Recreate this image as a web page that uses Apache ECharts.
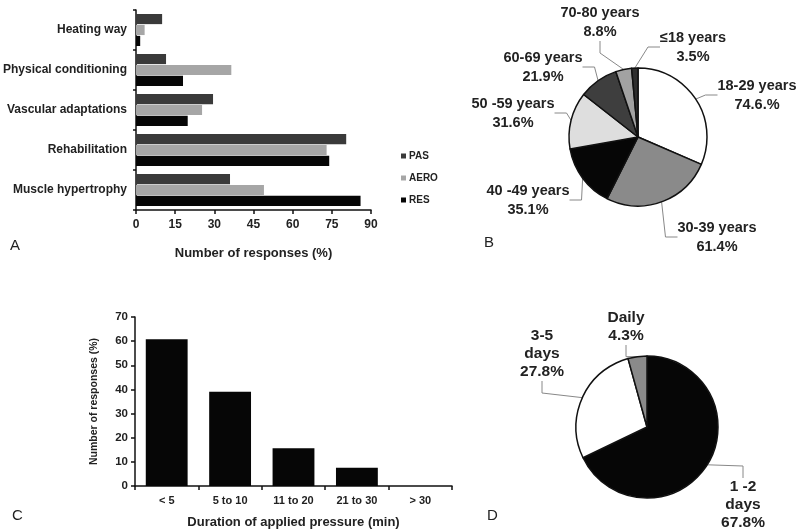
<!DOCTYPE html>
<html><head><meta charset="utf-8">
<script src="https://cdn.jsdelivr.net/npm/echarts@6/dist/echarts.min.js"></script>
<style>html,body{margin:0;padding:0;background:#fff}#c{width:800px;height:531px}</style>
</head><body><div id="c"></div>
<script>
// Panel A
const aCategories = ['Heating way','Physical conditioning','Vascular adaptations','Rehabilitation','Muscle hypertrophy'];
const aPAS  = [10, 11.5, 29.5, 80.5, 36];
const aAERO = [3.3, 36.5, 25.3, 73, 49];
const aRES  = [1.6, 18, 19.8, 74, 86];
// Panel B
const bNames  = ['18-29 years','30-39 years','40 -49 years','50 -59 years','60-69 years','70-80 years','≤18 years'];
const bValues = [74.6, 61.4, 35.1, 31.6, 21.9, 8.8, 3.5];
const bLabels = ['74.6.%','61.4%','35.1%','31.6%','21.9%','8.8%','3.5%'];
// Panel C
const cCategories = ['< 5','5 to 10','11 to 20','21 to 30','> 30'];
const cValues = [60.8, 39, 15.6, 7.6, 0];
// Panel D
const dNames  = ['1 -2\ndays','3-5\ndays','Daily'];
const dValues = [67.8, 27.8, 4.3];

const FONT = '"Liberation Sans", Arial, sans-serif';
const TXT = '#222';
const bColors = ['#ffffff','#8a8a8a','#060606','#dedede','#3e3e3e','#a2a2a2','#2e2e2e'];
const dColors = ['#060606','#ffffff','#8a8a8a'];
// label placement (centre of each label block)
const bLabelPos = [[757,95],[717,237],[528,200],[513,113],[543,67],[600,22],[693,47]];
const dLabelPos = [[743,505],[542,354],[626,327]];

const chart = echarts.init(document.getElementById('c'), null, {renderer:'canvas'});
const labelStyle = {fontFamily: FONT, fontWeight: 'bold', fontSize: 14.5, color: TXT, lineHeight: 19, align: 'center', overflow: 'none'};

chart.setOption({
  backgroundColor: '#fff',
  animation: false,
  textStyle: {fontFamily: FONT},
  legend: {
    data: ['PAS','AERO','RES'], orient: 'vertical', left: 396, top: 146,
    icon: 'rect', itemWidth: 5, itemHeight: 5, itemGap: 12,
    textStyle: {fontFamily: FONT, fontWeight: 'bold', fontSize: 10, color: TXT, padding: [0,0,0,-2]}
  },
  grid: [
    {left: 135, top: 10, width: 236, height: 200},
    {left: 135, top: 317, width: 317, height: 169}
  ],
  xAxis: [
    {gridIndex: 0, type: 'value', min: 0, max: 90, interval: 15,
     name: 'Number of responses (%)', nameLocation: 'middle', nameGap: 37,
     nameTextStyle: {fontFamily: FONT, fontWeight: 'bold', fontSize: 13, color: TXT},
     splitLine: {show: false},
     axisLine: {show: true, lineStyle: {color: '#111', width: 1.5}},
     axisTick: {show: true, length: 4, lineStyle: {color: '#111', width: 1.5}},
     axisLabel: {fontFamily: FONT, fontWeight: 'bold', fontSize: 12, color: TXT, margin: 9}},
    {gridIndex: 1, type: 'category', data: cCategories,
     name: 'Duration of applied pressure (min)', nameLocation: 'middle', nameGap: 30,
     nameTextStyle: {fontFamily: FONT, fontWeight: 'bold', fontSize: 13, color: TXT},
     axisLine: {lineStyle: {color: '#111', width: 1.5}},
     axisTick: {show: true, length: 4, lineStyle: {color: '#111', width: 1.5}},
     axisLabel: {fontFamily: FONT, fontWeight: 'bold', fontSize: 11, color: TXT, margin: 9}}
  ],
  yAxis: [
    {gridIndex: 0, type: 'category', data: aCategories, inverse: true,
     axisLine: {lineStyle: {color: '#111', width: 1.5}},
     axisTick: {show: true, length: 3, lineStyle: {color: '#111', width: 1.5}},
     axisLabel: {fontFamily: FONT, fontWeight: 'bold', fontSize: 12, color: TXT, margin: 9}},
    {gridIndex: 1, type: 'value', min: 0, max: 70, interval: 10,
     name: 'Number of responses (%)', nameLocation: 'middle', nameGap: 35,
     nameTextStyle: {fontFamily: FONT, fontWeight: 'bold', fontSize: 10.5, color: TXT},
     splitLine: {show: false},
     axisLine: {show: true, lineStyle: {color: '#111', width: 1.5}},
     axisTick: {show: true, length: 4, lineStyle: {color: '#111', width: 1.5}},
     axisLabel: {fontFamily: FONT, fontWeight: 'bold', fontSize: 11.5, color: TXT, margin: 7}}
  ],
  series: [
    {name: 'PAS', type: 'bar', xAxisIndex: 0, yAxisIndex: 0, data: aPAS, itemStyle: {color: '#3a3a3a'}, barGap: '8%', barCategoryGap: '20%'},
    {name: 'AERO', type: 'bar', xAxisIndex: 0, yAxisIndex: 0, data: aAERO, itemStyle: {color: '#a6a6a6'}},
    {name: 'RES', type: 'bar', xAxisIndex: 0, yAxisIndex: 0, data: aRES, itemStyle: {color: '#060606'}},
    {name: 'duration', type: 'bar', xAxisIndex: 1, yAxisIndex: 1, data: cValues, barWidth: '66%', itemStyle: {color: '#060606'}},
    {name: 'age', type: 'pie', center: [638, 137], radius: 69, startAngle: 90, clockwise: true,
     data: bNames.map((n, i) => ({name: n, value: bValues[i], itemStyle: {color: bColors[i]}, label: {formatter: n + '\n' + bLabels[i]}})),
     itemStyle: {borderColor: '#111', borderWidth: 1.5},
     label: Object.assign({show: true, position: 'outside'}, labelStyle),
     labelLine: {show: true, length: 10, length2: 12, lineStyle: {color: '#888', width: 1}},
     labelLayout: p => ({x: bLabelPos[p.dataIndex][0], y: bLabelPos[p.dataIndex][1], align: 'center', verticalAlign: 'middle'})},
    {name: 'freq', type: 'pie', center: [647, 427], radius: 71, startAngle: 90, clockwise: true,
     data: dNames.map((n, i) => ({name: n, value: dValues[i], itemStyle: {color: dColors[i]}, label: {formatter: n + '\n' + dValues[i].toFixed(1) + '%'}})),
     itemStyle: {borderColor: '#111', borderWidth: 1.5},
     label: Object.assign({show: true, position: 'outside'}, labelStyle, {fontSize: 15.5, lineHeight: 18}),
     labelLine: {show: true, length: 10, length2: 12, lineStyle: {color: '#888', width: 1}},
     labelLayout: p => ({x: dLabelPos[p.dataIndex][0], y: dLabelPos[p.dataIndex][1], align: 'center', verticalAlign: 'middle'})}
  ],
  graphic: [
    {type: 'text', left: 10, top: 238, style: {text: 'A', fontFamily: FONT, fontSize: 15, fill: TXT}},
    {type: 'text', left: 484, top: 235, style: {text: 'B', fontFamily: FONT, fontSize: 15, fill: TXT}},
    {type: 'text', left: 12, top: 508, style: {text: 'C', fontFamily: FONT, fontSize: 15, fill: TXT}},
    {type: 'text', left: 487, top: 508, style: {text: 'D', fontFamily: FONT, fontSize: 15, fill: TXT}}
  ]
});
</script></body></html>
